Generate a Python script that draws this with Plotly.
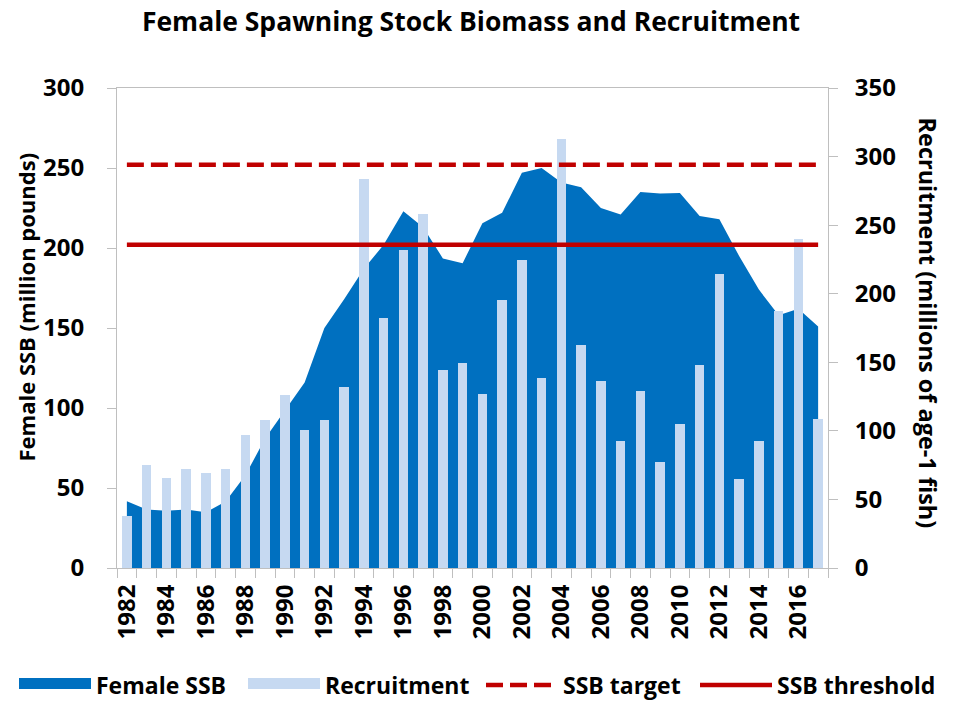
import plotly.graph_objects as go

years = list(range(1982, 2018))
female_ssb = [41.7, 36.5, 35.8, 36.5, 34.8, 41.5, 58, 81, 98.5, 116, 150, 168,
              187, 202, 223, 213, 193.5, 190.5, 215.4, 222, 247, 250, 241, 238,
              225, 221, 235, 234, 234.4, 220, 218, 195, 174, 158, 162, 151]
recruitment = [37.7, 75.1, 65.4, 72.2, 69.3, 72.0, 96.7, 107.7, 126.1, 100.4, 107.7, 132.3,
               283.7, 182.5, 231.9, 257.9, 144.1, 149.5, 126.9, 195.4, 224.6, 138.3, 312.6, 162.4,
               136.4, 92.6, 129.1, 77.3, 104.8, 147.8, 214.4, 65.1, 92.6, 187.2, 239.7, 108.6]
ssb_target = 252
ssb_threshold = 202
label_years = list(range(1982, 2017, 2))
left_ticks = [0, 50, 100, 150, 200, 250, 300]
right_ticks = [0, 50, 100, 150, 200, 250, 300, 350]

DARK = "#0070C0"
LIGHT = "#C6D9F1"
RED = "#C00000"
GRAY = "#BFBFBF"
FONT = "Open Sans"

fig = go.Figure()
# data traces
fig.add_trace(go.Scatter(x=years, y=female_ssb, name="Female SSB", mode="lines",
                         line=dict(width=0, color=DARK), fill="tozeroy", fillcolor=DARK,
                         yaxis="y", legendgroup="ssb", showlegend=False))
fig.add_trace(go.Bar(x=years, y=recruitment, name="Recruitment", marker_color=LIGHT,
                     marker_line_width=0, width=0.47, yaxis="y2",
                     legendgroup="rec", showlegend=False))
line_x = [years[0], years[-1]]
fig.add_trace(go.Scatter(x=line_x, y=[ssb_target] * 2, name="SSB target", mode="lines",
                         line=dict(color=RED, width=4.5, dash="17px,7px"), yaxis="y3",
                         legend="legend3"))
fig.add_trace(go.Scatter(x=line_x, y=[ssb_threshold] * 2, name="SSB threshold", mode="lines",
                         line=dict(color=RED, width=4.5), yaxis="y3", legend="legend4"))
# legend swatches (wide rectangles like the reference) linked to the data traces
fig.add_trace(go.Scatter(x=[None], y=[None], name="Female SSB", mode="lines",
                         line=dict(width=10, color=DARK), fill="tozeroy", fillcolor=DARK,
                         legendgroup="ssb", legend="legend", hoverinfo="skip"))
fig.add_trace(go.Scatter(x=[None], y=[None], name="Recruitment", mode="lines",
                         line=dict(width=10, color=LIGHT), fill="tozeroy", fillcolor=LIGHT,
                         legendgroup="rec", legend="legend2", hoverinfo="skip"))

legend_font = dict(family=FONT, size=23, color="black", weight="bold")


def legend_at(xpx):
    return dict(orientation="h", x=(xpx - 117) / 711, xanchor="left",
                y=-(685 - 568) / 480, yanchor="middle", font=legend_font,
                itemwidth=72, bgcolor="rgba(0,0,0,0)", borderwidth=0)


fig.update_layout(
    width=957, height=701,
    margin=dict(l=117, r=129, t=88, b=133, autoexpand=False),
    paper_bgcolor="white", plot_bgcolor="white",
    font=dict(family=FONT, size=23, color="black", weight="bold"),
    title=dict(text="Female Spawning Stock Biomass and Recruitment",
               x=471 / 957, xanchor="center", y=1 - 22 / 701, yanchor="middle",
               font=dict(family=FONT, size=26.5, color="black", weight="bold")),
    bargap=0,
    showlegend=True,
    legend=legend_at(14),
    legend2=legend_at(243),
    legend3=legend_at(481),
    legend4=legend_at(695),
    xaxis=dict(range=[1981.5, 2017.5], tickmode="array", tickvals=label_years,
               ticktext=[str(y) for y in label_years], tickangle=-90,
               ticks="outside", ticklen=6, tickcolor="rgba(0,0,0,0)",
               ticklabelstandoff=0,
               minor=dict(tickmode="linear", tick0=1981.5, dtick=1, ticks="outside",
                          ticklen=9, tickcolor=GRAY, tickwidth=1, showgrid=False),
               showline=True, linecolor=GRAY, linewidth=1, mirror=True,
               showgrid=False, zeroline=False,
               tickfont=dict(family=FONT, size=24, color="black", weight="bold")),
    yaxis=dict(range=[0, 300], tickmode="array", tickvals=left_ticks,
               ticks="outside", ticklen=9, tickcolor=GRAY, showline=True, linecolor=GRAY,
               showgrid=False, zeroline=False, ticklabelstandoff=18,
               tickfont=dict(family=FONT, size=24, color="black", weight="bold")),
    yaxis2=dict(range=[0, 350], tickmode="array", tickvals=right_ticks, overlaying="y",
                side="right", ticks="outside", ticklen=9, tickcolor=GRAY, showline=True,
                linecolor=GRAY, showgrid=False, zeroline=False, ticklabelstandoff=12,
                tickfont=dict(family=FONT, size=24, color="black", weight="bold")),
    yaxis3=dict(range=[0, 300], overlaying="y", visible=False),
    annotations=[
        dict(text="Female SSB (million pounds)", textangle=-90, xref="paper", yref="paper",
             x=(25 - 117) / 711, y=(568 - 307.5) / 480, xanchor="center", yanchor="middle",
             showarrow=False, font=dict(family=FONT, size=22, color="black", weight="bold")),
        dict(text="Recruitment (millions of age-1 fish)", textangle=90, xref="paper", yref="paper",
             x=(928 - 117) / 711, y=(568 - 323.5) / 480, xanchor="center", yanchor="middle",
             showarrow=False, font=dict(family=FONT, size=23.5, color="black", weight="bold")),
    ],
)

fig.write_html("out.html", config={"displayModeBar": False},
               post_script="document.body.style.margin='0';")
